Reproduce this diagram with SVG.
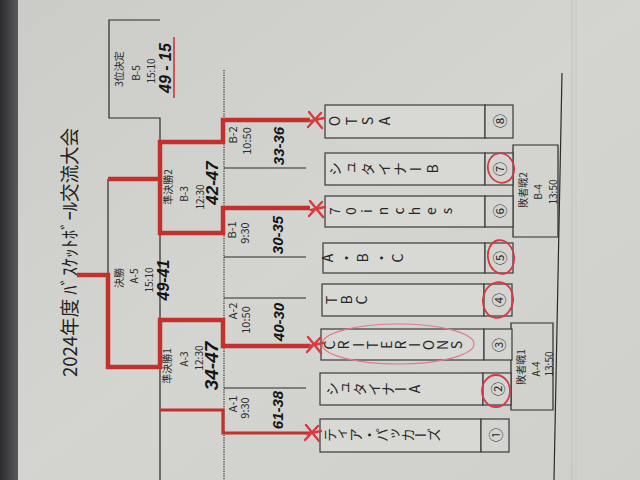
<svg xmlns="http://www.w3.org/2000/svg" width="640" height="480" viewBox="0 0 640 480">
<defs>
<linearGradient id="paper" x1="0" y1="0" x2="1" y2="1">
<stop offset="0" stop-color="#cbccc7"/>
<stop offset="0.5" stop-color="#d4d5d0"/>
<stop offset="1" stop-color="#cfd0cb"/>
</linearGradient>
<linearGradient id="edge" x1="0" x2="1">
<stop offset="0" stop-color="#2c2c2e"/>
<stop offset="1" stop-color="#585a5c"/>
</linearGradient>
</defs>
<style>
.lbl{font-family:"Noto Sans CJK JP",sans-serif;font-size:10px;fill:#2a2a2a;text-anchor:middle;dominant-baseline:central}
.sc{font-family:"Liberation Sans","Noto Sans CJK JP",sans-serif;font-weight:bold;font-style:italic;font-size:15px;fill:#141414;text-anchor:middle;dominant-baseline:central}
.ln{fill:none;stroke:#2a2a2a;stroke-width:1.2}
.dot{fill:none;stroke:#3a3a3a;stroke-width:1.3;stroke-dasharray:1.2 1.2}
.rd{fill:none;stroke:#c4302c;stroke-width:4.5}
.mk{fill:none;stroke:#d83a40;stroke-width:2.4;stroke-linecap:round}
.ring{fill:none;stroke:#d23a48;stroke-width:1.8}
.tb{fill:#d8d9d4;stroke:#3a3a3a;stroke-width:1.2}
.nb{fill:#d4d5d0;stroke:#3a3a3a;stroke-width:1.2}
.tm{font-family:"Noto Sans CJK JP",sans-serif;font-size:14px;fill:#262626;writing-mode:vertical-rl;text-orientation:upright}
.num{font-family:"Noto Sans CJK JP",sans-serif;font-size:14px;fill:#262626;text-anchor:middle;dominant-baseline:central}
.ttl{font-family:"Noto Sans CJK JP",sans-serif;font-size:19px;fill:#222;dominant-baseline:central}
</style>

<!-- photo background -->
<rect x="0" y="0" width="640" height="480" fill="url(#paper)"/>
<rect x="0" y="0" width="18" height="480" fill="url(#edge)"/>
<line x1="572" y1="0" x2="572" y2="480" stroke="#bfc0bb" stroke-width="1"/>
<line x1="576" y1="0" x2="576" y2="480" stroke="#c5c6c1" stroke-width="1"/>
<line x1="562" y1="73" x2="554" y2="480" class="ln"/>

<!-- title -->
<g id="title">
<text class="ttl" transform="translate(68,377) rotate(-90)" textLength="249" lengthAdjust="spacingAndGlyphs">2024年度 ﾊﾞｽｹｯﾄﾎﾞｰﾙ交流大会</text>
</g>

<!-- connectors -->
<g id="connectors">
<path class="ln" d="M160,20 H109 V118 H160 V480"/>
<line class="ln" x1="108" y1="179" x2="108" y2="275"/>
<line class="dot" x1="224" y1="70" x2="224" y2="480"/>
<line class="ln" x1="224" y1="168" x2="306" y2="168"/>
<line class="ln" x1="224" y1="257" x2="306" y2="257"/>
<line class="ln" x1="224" y1="298" x2="306" y2="298"/>
<line class="ln" x1="224" y1="388" x2="306" y2="388"/>
<path class="rd" d="M77,275 H108 V367 H160 V320 H223 V346 H310"/>
<path class="rd" d="M108,179 H160"/>
<path class="rd" d="M310,120 H223 V142 H160 V233 H223 V208 H310"/>
<path class="rd" d="M160,410 H223 V433 H310" style="stroke-width:3.2"/>
<line x1="174" y1="37" x2="174" y2="98" stroke="#d0343a" stroke-width="1.6"/>
</g>

<!-- match labels -->
<g id="m3rd">
<text class="lbl" transform="translate(118,69) rotate(-90)">3位決定</text>
<text class="lbl" transform="translate(135,73) rotate(-90)">B-5</text>
<text class="lbl" transform="translate(150,71) rotate(-90)">15:10</text>
<text class="sc" transform="translate(165,68) rotate(-90)" style="font-size:16px">49 - 15</text>
</g>
<g id="mFinal">
<text class="lbl" transform="translate(118,278) rotate(-90)">決勝</text>
<text class="lbl" transform="translate(133,276) rotate(-90)">A-5</text>
<text class="lbl" transform="translate(148,280) rotate(-90)">15:10</text>
<text class="sc" transform="translate(163,280) rotate(-90)" style="font-size:16px">49-41</text>
</g>
<g id="mSemi2">
<text class="lbl" transform="translate(167,187) rotate(-90)">準決勝2</text>
<text class="lbl" transform="translate(183,194) rotate(-90)">B-3</text>
<text class="lbl" transform="translate(199,197) rotate(-90)">12:30</text>
<text class="sc" transform="translate(212,183) rotate(-90)" style="font-size:17px">42-47</text>
</g>
<g id="mSemi1">
<text class="lbl" transform="translate(166,366) rotate(-90)">準決勝1</text>
<text class="lbl" transform="translate(183,359) rotate(-90)">A-3</text>
<text class="lbl" transform="translate(198,358) rotate(-90)">12:30</text>
<text class="sc" transform="translate(211,366) rotate(-90)" style="font-size:19px">34-47</text>
</g>
<g id="mB2">
<text class="lbl" transform="translate(232,135) rotate(-90)" style="font-size:11px">B-2</text>
<text class="lbl" transform="translate(246,141) rotate(-90)" style="font-size:11px">10:50</text>
<text class="sc" transform="translate(278,146) rotate(-90)">33-36</text>
</g>
<g id="mB1">
<text class="lbl" transform="translate(231,230) rotate(-90)" style="font-size:11px">B-1</text>
<text class="lbl" transform="translate(244,233) rotate(-90)" style="font-size:11px">9:30</text>
<text class="sc" transform="translate(277,235) rotate(-90)">30-35</text>
</g>
<g id="mA2">
<text class="lbl" transform="translate(232,311) rotate(-90)" style="font-size:11px">A-2</text>
<text class="lbl" transform="translate(245,320) rotate(-90)" style="font-size:11px">10:50</text>
<text class="sc" transform="translate(278,322) rotate(-90)">40-30</text>
</g>
<g id="mA1">
<text class="lbl" transform="translate(232,404) rotate(-90)" style="font-size:11px">A-1</text>
<text class="lbl" transform="translate(244,408) rotate(-90)" style="font-size:11px">9:30</text>
<text class="sc" transform="translate(277,410) rotate(-90)">61-38</text>
</g>

<!-- consolation boxes -->
<g id="mB4">
<path class="ln" d="M513,145 H558 V237 H513 Z"/>
<text class="lbl" transform="translate(522,190) rotate(-90)">敗者戦2</text>
<text class="lbl" transform="translate(537,192) rotate(-90)">B-4</text>
<text class="lbl" transform="translate(552,192) rotate(-90)">13:50</text>
</g>
<g id="mA4">
<path class="ln" d="M511,323 H553 V410 H511 Z"/>
<text class="lbl" transform="translate(520,367) rotate(-90)">敗者戦1</text>
<text class="lbl" transform="translate(535,369) rotate(-90)">A-4</text>
<text class="lbl" transform="translate(548,364) rotate(-90)">13:50</text>
</g>

<!-- teams -->
<g id="team8">
<rect class="tb" x="325" y="105" width="160" height="33"/>
<rect class="nb" x="485" y="105" width="28" height="33"/>
<text class="tm" transform="rotate(-90)" x="-121" y="328" style="letter-spacing:2.5px">OTSA</text>
<text class="num" transform="translate(499,121) rotate(-90)">⑧</text>
</g>
<g id="team7">
<rect class="tb" x="325" y="153" width="160" height="32"/>
<rect class="nb" x="485" y="153" width="28" height="32"/>
<text class="tm" transform="rotate(-90)" x="-169" y="328" style="letter-spacing:2.2px">シュタイナーB</text>
<text class="num" transform="translate(499,169) rotate(-90)">⑦</text>
</g>
<g id="team6">
<rect class="tb" x="325" y="196" width="160" height="31"/>
<rect class="nb" x="485" y="196" width="28" height="31"/>
<text class="tm" transform="rotate(-90)" x="-211" y="328" style="letter-spacing:2px">70inches</text>
<text class="num" transform="translate(499,211) rotate(-90)">⑥</text>
</g>
<g id="team5">
<rect class="tb" x="323" y="243" width="162" height="30"/>
<rect class="nb" x="485" y="243" width="28" height="30"/>
<text class="tm" transform="rotate(-90)" x="-258" y="321" style="letter-spacing:3.5px">A・B・C</text>
<text class="num" transform="translate(499,258) rotate(-90)">⑤</text>
</g>
<g id="team4">
<rect class="tb" x="322" y="284" width="162" height="32"/>
<rect class="nb" x="484" y="284" width="28" height="32"/>
<text class="tm" transform="rotate(-90)" x="-300" y="325" style="letter-spacing:1px">TBC</text>
<text class="num" transform="translate(498,300) rotate(-90)">④</text>
</g>
<g id="team3">
<rect class="tb" x="321" y="329" width="163" height="31"/>
<rect class="nb" x="484" y="329" width="28" height="31"/>
<text class="tm" transform="rotate(-90)" x="-345" y="323" style="letter-spacing:0.1px">CRITERIONS</text>
<text class="num" transform="translate(498,345) rotate(-90)">③</text>
</g>
<g id="team2">
<rect class="tb" x="320" y="373" width="163" height="32"/>
<rect class="nb" x="483" y="373" width="28" height="32"/>
<text class="tm" transform="rotate(-90)" x="-389" y="325" style="letter-spacing:-0.2px">シュタイナーA</text>
<text class="num" transform="translate(497,389) rotate(-90)">②</text>
</g>
<g id="team1">
<rect class="tb" x="320" y="419" width="161" height="33"/>
<rect class="nb" x="481" y="419" width="28" height="33"/>
<text class="tm" transform="rotate(-90)" x="-435" y="323" style="letter-spacing:-1.1px">ティア・パッカーズ</text>
<text class="num" transform="translate(495,435) rotate(-90)">①</text>
</g>

<!-- hand marks -->
<g id="marks">
<ellipse class="ring" cx="501" cy="168" rx="13" ry="15" transform="rotate(-15 501 168)"/>
<ellipse class="ring" cx="501" cy="257" rx="13" ry="17" transform="rotate(-10 501 257)"/>
<ellipse class="ring" cx="498" cy="300" rx="15" ry="18" transform="rotate(10 498 300)"/>
<ellipse class="ring" cx="496" cy="391" rx="14" ry="16"/>
<ellipse cx="398" cy="344" rx="76" ry="20" fill="none" stroke="#e07a88" stroke-width="1.2"/>
<path class="mk" d="M309,112 L322,128 M308,127 L321,113 M310,121 L324,118"/>
<path class="mk" d="M310,201 L323,217 M309,216 L322,202 M311,210 L325,207"/>
<path class="mk" d="M308,337 L321,353 M307,352 L320,338 M309,346 L323,343"/>
<path class="mk" d="M306,425 L319,441 M305,440 L318,426 M307,434 L321,431"/>
</g>
</svg>
